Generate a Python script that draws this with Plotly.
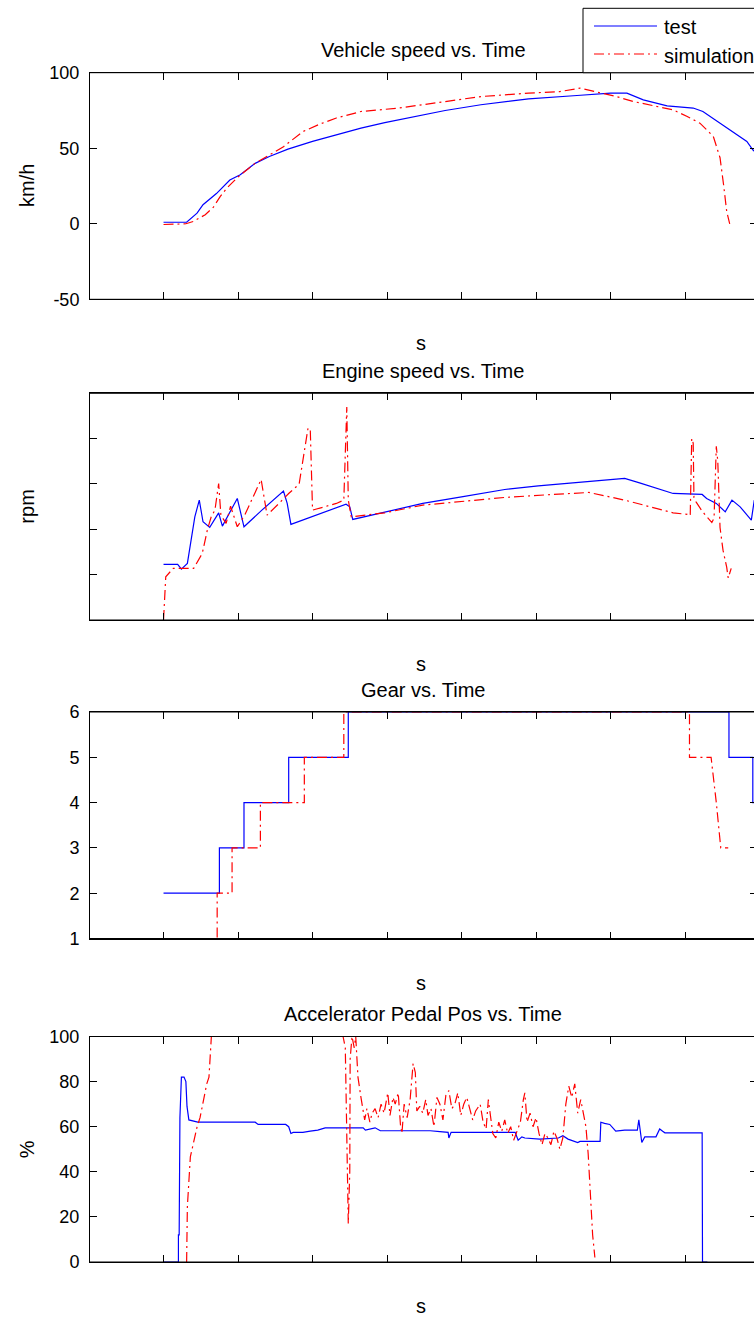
import plotly.graph_objects as go

W, H = 754, 1318
FONT = "Liberation Sans, Arial, Helvetica, sans-serif"
BLUE = "#0000FF"
RED = "#FF0000"
DASHDOT = "10px,4px,2px,4px"

# ---------------- data ----------------
x_ticks = [0, 10, 20, 30, 40, 50, 60, 70]
x_range = [-9.87, 79.26]

speed_ticks = [-50, 0, 50, 100]
speed_labels = ["-50", "0", "50", "100"]
rpm_ticks = [0, 1000, 2000, 3000, 4000, 5000]
gear_ticks = [1, 2, 3, 4, 5, 6]
gear_labels = ["1", "2", "3", "4", "5", "6"]
pedal_ticks = [0, 20, 40, 60, 80, 100]
pedal_labels = ["0", "20", "40", "60", "80", "100"]

series_names = ["test", "simulation"]

speed_t_test = [0, 2.9, 3.1, 4.5, 5.3, 7.1, 8.9, 10.3, 12.3, 14.2, 16.7, 20.0, 23.2, 26.5, 29.7,
                32.9, 37.8, 42.6, 49.0, 55.5, 60.0, 62.2, 64.4, 67.6, 71.1, 72.4, 74.7, 76.4, 78.3,
                79.1, 80.1]
speed_test = [1, 1, 1, 7, 12.6, 20, 29, 32.4, 40, 44.5, 49.4, 54.5, 59, 63.3, 67, 70, 75, 78.8,
              82.7, 84.9, 86.5, 86.5, 82, 78, 76.6, 74.3, 66.8, 61, 54.5, 49, 44]

speed_t_sim = [0, 1.8, 3.0, 4.0, 5.6, 6.7, 7.6, 8.5, 10.0, 12.3, 14.3, 16.1, 18.7, 21.0, 23.2,
               26.5, 31.6, 36.1, 42.6, 49.0, 53.2, 55.9, 58.6, 60.8, 63.0, 65.3, 68.4, 70.3, 72.0,
               73.8, 74.4, 74.7, 75.2, 75.6, 76.0]
speed_sim = [-0.5, -0.5, 0, 1.5, 6, 11, 18, 23.6, 31, 40, 46, 51, 61, 66, 70, 74.3, 76.6, 79.8,
             84.2, 86.5, 87.5, 89.8, 86.5, 84.2, 81, 78.8, 75.4, 71, 66.6, 57.8, 49, 43.7, 25, 8, 0]

engine_t_test = [0, 1.9, 2.4, 3.2, 4.2, 4.8, 5.3, 6.2, 7.4, 7.9, 9.9, 10.8, 13.2, 16.1, 16.6, 17.1,
                 24.5, 25.0, 25.4, 29.7, 34.8, 40.0, 45.8, 50.3, 55.5, 60.0, 61.9, 63.9, 68.4, 72.3,
                 72.9, 74.2, 75.4, 76.3, 77.4, 78.9, 79.3]
engine_test = [1227, 1227, 1123, 1249, 2276, 2644, 2166, 2042, 2364, 2071, 2681, 2056, 2423, 2842,
               2571, 2108, 2555, 2496, 2218, 2386, 2571, 2716, 2879, 2959, 3025, 3084, 3122, 3025,
               2791, 2769, 2681, 2571, 2386, 2644, 2496, 2203, 2644]

engine_t_sim = [0, 0.3, 1.3, 4.05, 5.2, 5.9, 6.4, 6.9, 7.4, 7.7, 8.4, 9.0, 9.9, 10.9, 13.1, 13.9,
                15.5, 16.8, 18.2, 19.4, 19.7, 20.0, 23.2, 24.2, 24.6, 24.8, 25.2, 29.7, 34.8, 40.0,
                45.8, 52.3, 57.1, 61.9, 68.4, 70.3, 70.7, 70.9, 71.1, 71.2, 71.5, 72.3, 73.6, 73.9,
                74.2, 74.4, 74.7, 75.1, 75.6, 75.8, 76.2]
engine_sim = [0, 954, 1139, 1139, 1469, 1998, 2276, 2423, 3011, 2313, 2130, 2511, 2056, 2313, 3100,
              2313, 2571, 2791, 2996, 4237, 4186, 2423, 2571, 2644, 4699, 2644, 2276, 2364, 2534,
              2606, 2703, 2769, 2813, 2644, 2364, 2330, 2300, 4003, 3900, 2700, 2600, 2400, 2150,
              2250, 3833, 3500, 2040, 1540, 1160, 925, 1139]

gear_t_test = [0, 7.5, 10.8, 16.8, 24.8, 75.9, 79.1, 80.5]
gear_test = [2, 3, 4, 5, 6, 5, 4, 4]

gear_t_sim = [0, 7.2, 7.2, 9.2, 9.2, 13.0, 13.0, 18.9, 18.9, 24.2, 24.2, 70.6, 70.6, 73.5, 74.2,
              74.8, 75.8]
gear_sim = [0, 0, 2, 2, 3, 3, 4, 4, 5, 5, 6, 6, 5, 5, 4, 3, 3]

pedal_t_test = [0, 2.0, 2.0, 2.1, 2.2, 2.4, 2.75, 3.0, 3.15, 3.4, 4.6, 12.3, 12.7, 16.4, 16.8, 17.1,
                17.4, 18.7, 19.7, 20.7, 21.7, 26.8, 27.1, 28.0, 28.4, 29.1, 35.8, 37.1, 38.2, 38.3,
                38.6, 47.2, 47.6, 48.1, 48.5, 50.5, 53.0, 53.6, 54.3, 55.6, 55.9, 58.6, 58.7, 59.2,
                59.9, 60.7, 61.9, 63.6, 63.8, 64.2, 64.6, 66.1, 66.6, 67.0, 67.3, 72.3, 72.35, 73.0]
pedal_test = [0, 0, 12, 12, 64, 82, 82, 80, 69, 63, 62, 62, 61, 61, 60, 57, 57.5, 57.5, 58, 58.5,
              59.5, 59.5, 58.5, 59, 59.5, 58.2, 58.2, 57.8, 57.5, 55, 57.5, 57.5, 54, 55.5, 55,
              54.5, 55, 56, 54.5, 53, 53.5, 53.5, 62, 61.5, 61, 58, 58.5, 58.5, 63, 53, 55.5, 55.5,
              59, 58, 57.3, 57.3, 0, 0]

pedal_t_sim = [3.1, 3.2, 3.6, 4.0, 4.5, 4.9, 5.8, 6.1, 6.4, 6.6, 24.0, 24.1, 24.4, 24.6, 24.8, 25.0,
               25.05, 25.3, 25.6, 25.8, 26.1, 26.5, 26.8, 27.0, 27.3, 27.7, 28.0, 28.4, 28.8, 29.2,
               29.6, 29.9, 30.1, 30.4, 30.8, 31.1, 31.5, 31.8, 32.0, 32.3, 32.7, 33.1, 33.5, 33.8,
               34.0, 34.4, 34.8, 35.2, 35.5, 35.9, 36.3, 36.7, 37.1, 37.5, 37.9, 38.3, 38.7, 39.1,
               39.5, 39.9, 40.3, 40.7, 41.1, 41.5, 41.9, 42.5, 42.9, 43.3, 43.6, 44.0, 44.2, 44.6,
               45.0, 45.4, 45.8, 46.2, 46.6, 47.0, 47.4, 47.9, 48.3, 48.5, 48.8, 49.2, 49.6, 50.0,
               50.4, 50.8, 51.2, 51.6, 52.0, 52.4, 52.8, 53.2, 53.6, 54.0, 54.4, 54.8, 55.2, 55.6,
               56.0, 56.4, 56.7, 57.0, 57.2, 57.5, 57.6, 57.9]
pedal_sim = [0, 24.5, 46.6, 53, 59.9, 64, 79, 82, 100, 110, 110, 100, 95, 60, 17, 40, 90, 100, 95,
             100, 82, 73, 68, 63, 68, 62, 66, 68, 64, 70, 66, 72, 75, 65, 73, 70, 75, 61, 57, 70,
             64, 72, 88, 84, 67, 69, 66, 72, 65, 68, 60, 73, 70, 63, 74, 76, 68, 70, 75, 65, 70,
             73, 68, 63, 67, 70, 62, 59, 72, 60, 57, 55, 62, 58, 63, 57, 60, 54, 58, 62, 72, 75,
             62, 66, 60, 64, 57, 52, 57, 55, 52, 58, 55, 50, 55, 70, 78, 73, 79, 66, 72, 65, 60,
             48, 35, 20, 12, 2]

# ---------------- layout helpers ----------------
def py(px):
    return 1 - px / H


def pxx(px):
    return px / W


panels = [
    dict(top=72.7, bottom=299.3, title="Vehicle speed vs. Time", ylabel="km/h",
         yrange=[-50, 100], tickvals=speed_ticks, ticktext=speed_labels, labels=True,
         test=(speed_t_test, speed_test, "linear"), sim=(speed_t_sim, speed_sim)),
    dict(top=393.3, bottom=620.0, title="Engine speed vs. Time", ylabel="rpm",
         yrange=[0, 5000], tickvals=rpm_ticks, ticktext=None, labels=False,
         test=(engine_t_test, engine_test, "linear"), sim=(engine_t_sim, engine_sim)),
    dict(top=712.0, bottom=938.5, title="Gear vs. Time", ylabel="",
         yrange=[1, 6], tickvals=gear_ticks, ticktext=gear_labels, labels=True,
         test=(gear_t_test, gear_test, "hv"), sim=(gear_t_sim, gear_sim)),
    dict(top=1036.5, bottom=1262.0, title="Accelerator Pedal Pos vs. Time", ylabel="%",
         yrange=[0, 100], tickvals=pedal_ticks, ticktext=pedal_labels, labels=True,
         test=(pedal_t_test, pedal_test, "linear"), sim=(pedal_t_sim, pedal_sim)),
]

fig = go.Figure()
layout = dict(
    template="none",
    width=W, height=H, autosize=False,
    margin=dict(l=0, r=0, t=0, b=0, pad=0, autoexpand=False),
    paper_bgcolor="white", plot_bgcolor="white",
    showlegend=False,
    font=dict(family=FONT, size=18, color="black"),
)
annotations = []
shapes = []

for i, p in enumerate(panels, start=1):
    sfx = "" if i == 1 else str(i)
    xa, ya, yr = f"x{sfx}", f"y{sfx}", f"y{i + 4}"
    tt, tv, shape = p["test"]
    fig.add_trace(go.Scatter(x=tt, y=tv, mode="lines", line=dict(color=BLUE, width=1.2, shape=shape),
                             name=series_names[0], xaxis=xa, yaxis=ya, hoverinfo="skip"))
    st, sv = p["sim"]
    fig.add_trace(go.Scatter(x=st, y=sv, mode="lines", line=dict(color=RED, width=1.2, dash=DASHDOT),
                             name=series_names[1], xaxis=xa, yaxis=ya, hoverinfo="skip"))
    fig.add_trace(go.Scatter(x=[], y=[], xaxis=xa, yaxis=yr, showlegend=False, hoverinfo="skip"))

    dom_y = [py(p["bottom"]), py(p["top"])]
    layout[f"xaxis{sfx}"] = dict(
        domain=[pxx(90), 1], range=x_range, anchor=ya, tickvals=x_ticks, automargin=False,
        ticks="inside", ticklen=7, tickcolor="black", tickwidth=1,
        showticklabels=False, showline=True, mirror="ticks", linecolor="black", linewidth=1,
        showgrid=False, zeroline=False, fixedrange=True,
    )
    yax = dict(
        domain=dom_y, range=p["yrange"], anchor=xa, tickvals=p["tickvals"], automargin=False,
        ticks="inside", ticklen=7, tickcolor="black", tickwidth=1,
        showticklabels=p["labels"], showline=True, mirror=False, linecolor="black", linewidth=1,
        showgrid=False, zeroline=False, tickfont=dict(size=18, family=FONT, color="black"),
        ticklabelstandoff=6, fixedrange=True,
    )
    if p["ticktext"] is not None:
        yax["ticktext"] = p["ticktext"]
    layout[f"yaxis{sfx}"] = yax
    layout[f"yaxis{i + 4}"] = dict(
        overlaying=ya, side="right", anchor=xa, range=p["yrange"], tickvals=p["tickvals"],
        ticks="inside", ticklen=4, tickcolor="black", tickwidth=1, showticklabels=False,
        showline=False, showgrid=False, zeroline=False, fixedrange=True, automargin=False,
    )

    # frame edges drawn over the data, as the reference axes cover lines lying on the border
    for edge in (0, 1):
        shapes.append(dict(type="line", xref="paper", yref=f"{ya} domain", x0=pxx(90), x1=1,
                           y0=edge, y1=edge, line=dict(color="black", width=1), layer="above"))

    annotations.append(dict(text=p["title"], x=pxx(423), y=py(p["top"] - 22.5), xref="paper", yref="paper",
                            xanchor="center", yanchor="middle", showarrow=False,
                            font=dict(size=20, family=FONT, color="black")))
    annotations.append(dict(text="s", x=pxx(421), y=py(p["bottom"] + 44), xref="paper", yref="paper",
                            xanchor="center", yanchor="middle", showarrow=False,
                            font=dict(size=20, family=FONT, color="black")))
    if p["ylabel"]:
        annotations.append(dict(text=p["ylabel"], x=pxx(27), y=py((p["top"] + p["bottom"]) / 2),
                                xref="paper", yref="paper", xanchor="center", yanchor="middle",
                                textangle=-90, showarrow=False,
                                font=dict(size=20, family=FONT, color="black")))

# ---------------- legend (drawn, clipped by the page edge like the reference) ----------------
shapes.append(dict(type="rect", xref="paper", yref="paper", x0=pxx(583), x1=pxx(800),
                   y0=py(72.7), y1=py(8.3), line=dict(color="black", width=1), fillcolor="white",
                   layer="above"))
shapes.append(dict(type="line", xref="paper", yref="paper", x0=pxx(594), x1=pxx(657),
                   y0=py(26), y1=py(26), line=dict(color=BLUE, width=1.2), layer="above"))
shapes.append(dict(type="line", xref="paper", yref="paper", x0=pxx(594), x1=pxx(657),
                   y0=py(54), y1=py(54), line=dict(color=RED, width=1.2, dash=DASHDOT), layer="above"))
annotations.append(dict(text=series_names[0], x=pxx(662), y=py(27), xref="paper", yref="paper",
                        xanchor="left", yanchor="middle", showarrow=False,
                        font=dict(size=20, family=FONT, color="black")))
annotations.append(dict(text=series_names[1], x=pxx(662), y=py(56), xref="paper", yref="paper",
                        xanchor="left", yanchor="middle", showarrow=False,
                        font=dict(size=20, family=FONT, color="black")))

layout["annotations"] = annotations
layout["shapes"] = shapes
fig.update_layout(**layout)
fig.write_html(
    "out.html",
    config={"displayModeBar": False},
    post_script="document.body.style.margin='0';document.body.style.overflow='hidden';",
)
